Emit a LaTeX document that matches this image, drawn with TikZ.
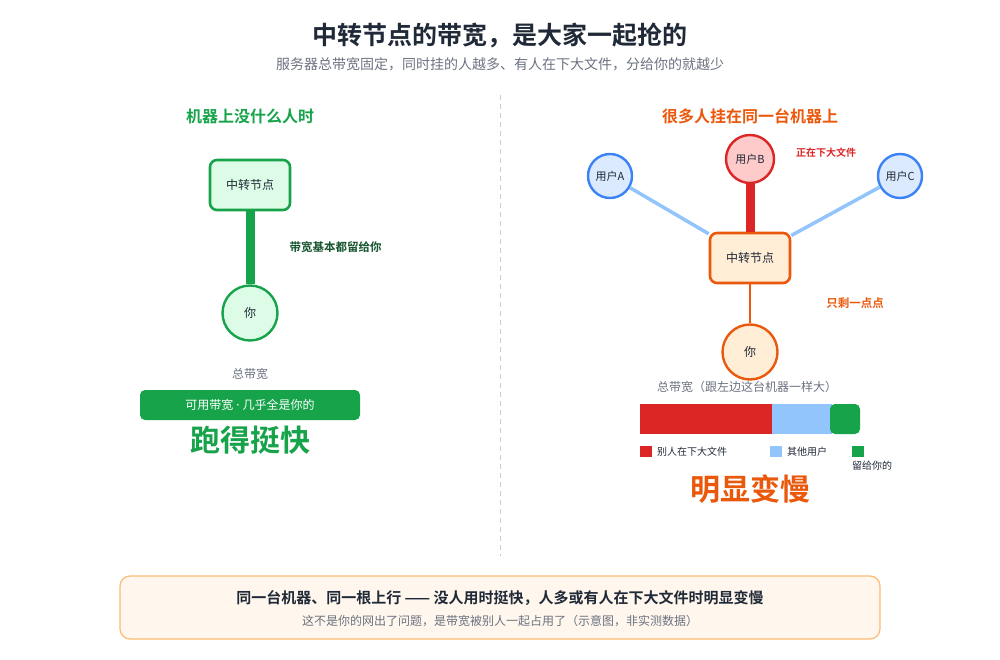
\documentclass[tikz,border=0pt]{standalone}
\usepackage{fontspec}
\setmainfont{Noto Sans CJK SC}[BoldFont={Noto Sans CJK SC Bold}]
\newfontfamily\latino{Noto Sans}
\usetikzlibrary{positioning}

\definecolor{inchiostro}{HTML}{1F2937}
\definecolor{grigio}{HTML}{6B7280}
\definecolor{verde}{HTML}{16A34A}
\definecolor{verdechiaro}{HTML}{DCFCE7}
\definecolor{verdescuro}{HTML}{14532D}
\definecolor{arancio}{HTML}{EA580C}
\definecolor{aranciochiaro}{HTML}{FFEDD5}
\definecolor{rosso}{HTML}{DC2626}
\definecolor{rossochiaro}{HTML}{FECACA}
\definecolor{blu}{HTML}{3B82F6}
\definecolor{bluchiaro}{HTML}{DBEAFE}
\definecolor{blutenue}{HTML}{93C5FD}
\definecolor{crema}{HTML}{FFF7ED}
\definecolor{pesca}{HTML}{FDBA74}

\newcommand{\fs}[1]{\fontsize{#1}{#1}\selectfont}

\begin{document}
\begin{tikzpicture}[
    x=1pt,y=-1pt,
    titolo/.style={font=\fs{25}\bfseries,text=inchiostro},
    sottotitolo/.style={font=\fs{14},text=grigio},
    intestazione/.style={font=\fs{16}\bfseries},
    nodorelay/.style={draw,rounded corners=7pt,line width=2.6pt,minimum width=80pt,minimum height=50pt,font=\fs{12},text=inchiostro},
    utente/.style={draw,circle,line width=2.4pt,inner sep=0pt,font=\fs{11},text=inchiostro},
    nota/.style={font=\fs{11.5}\bfseries},
    didascalia/.style={font=\fs{12},text=grigio},
    verdetto/.style={font=\fs{30}\bfseries},
    legenda/.style={font=\fs{10},text=inchiostro,anchor=west,inner sep=0pt}]

  \useasboundingbox (0,0) rectangle (1000,660);

  % ---- titolo ---------------------------------------------------------------
  \node[titolo] (titolo) at (500,35) {中转节点的带宽，是大家一起抢的};
  \node[sottotitolo] (sottotitolo) at (500,64) {服务器总带宽固定，同时挂的人越多、有人在下大文件，分给你的就越少};

  % divisorio
  \draw[black!20,line width=1pt,dash pattern=on 5pt off 4pt] (500,95) -- (500,556);

  % ---- pannello sinistro: macchina quasi vuota ------------------------------
  \node[intestazione,text=verde] (testaS) at (250,116) {机器上没什么人时};
  \node[nodorelay,draw=verde,fill=verdechiaro] (relayS) at (250,185) {中转节点};
  \node[utente,draw=verde,fill=verdechiaro,minimum size=55pt,font=\fs{12}] (tuS) at (250,313) {你};
  \draw[verde,line width=9pt] (relayS.south) -- (tuS.north);
  \node[nota,text=verdescuro,anchor=west] (notaS) at (286,247) {带宽基本都留给你};

  \node[didascalia] (totaleS) at (250,374) {总带宽};
  \fill[verde,rounded corners=5pt] (140,390) rectangle (360,420);
  \node[font=\fs{12},text=white] (barraS) at (250,405) {可用带宽{\latino\ ·\ }几乎全是你的};
  \node[verdetto,text=verde] (veloce) at (250,440) {跑得挺快};

  % ---- pannello destro: tanti utenti sulla stessa macchina ------------------
  \node[intestazione,text=arancio] (testaD) at (750,116) {很多人挂在同一台机器上};
  \node[nodorelay,draw=arancio,fill=aranciochiaro] (relayD) at (750,258) {中转节点};
  \node[utente,draw=blu,fill=bluchiaro,minimum size=44pt] (utA) at (610,176) {用户A};
  \node[utente,draw=rosso,fill=rossochiaro,minimum size=48pt] (utB) at (750,159) {用户B};
  \node[utente,draw=blu,fill=bluchiaro,minimum size=44pt] (utC) at (900,176) {用户C};
  \node[utente,draw=arancio,fill=aranciochiaro,minimum size=55pt,font=\fs{12}] (tuD) at (750,352) {你};

  \draw[blutenue,line width=3.5pt] (utA) -- (relayD);
  \draw[blutenue,line width=3.5pt] (utC) -- (relayD);
  \draw[rosso,line width=9pt] (utB.south) -- (relayD.north);
  \draw[arancio,line width=2.6pt] (relayD.south) -- (tuD.north);

  \node[font=\fs{10}\bfseries,text=rosso] (notaB) at (826,153) {正在下大文件};
  \node[nota,text=arancio] (notaD) at (855,303) {只剩一点点};

  \node[didascalia] (totaleD) at (747,387) {总带宽（跟左边这台机器一样大）};
  \fill[rosso] (640,404) rectangle (772,434);
  \fill[blutenue] (772,404) rectangle (832,434);
  \fill[verde,rounded corners=5pt] (830,404) rectangle (860,434);

  % legenda
  \fill[rosso] (640,446) rectangle (652,457);
  \node[legenda] (legRosso) at (657,452) {别人在下大文件};
  \fill[blutenue] (770,446) rectangle (782,457);
  \node[legenda] (legBlu) at (787,452) {其他用户};
  \fill[verde] (852,446) rectangle (864,457);
  \node[legenda] (legVerde) at (852,466) {留给你的};

  \node[verdetto,text=arancio] (lento) at (750,489) {明显变慢};

  % ---- riquadro finale ------------------------------------------------------
  \draw[pesca,fill=crema,line width=1.2pt,rounded corners=10pt] (120,576) rectangle (880,639);
  \node[font=\fs{15}\bfseries,text=inchiostro] (sintesi) at (500,598) {同一台机器、同一根上行 —— 没人用时挺快，人多或有人在下大文件时明显变慢};
  \node[font=\fs{12},text=grigio] (avvertenza) at (500,621) {这不是你的网出了问题，是带宽被别人一起占用了（示意图，非实测数据）};

\end{tikzpicture}
\end{document}
